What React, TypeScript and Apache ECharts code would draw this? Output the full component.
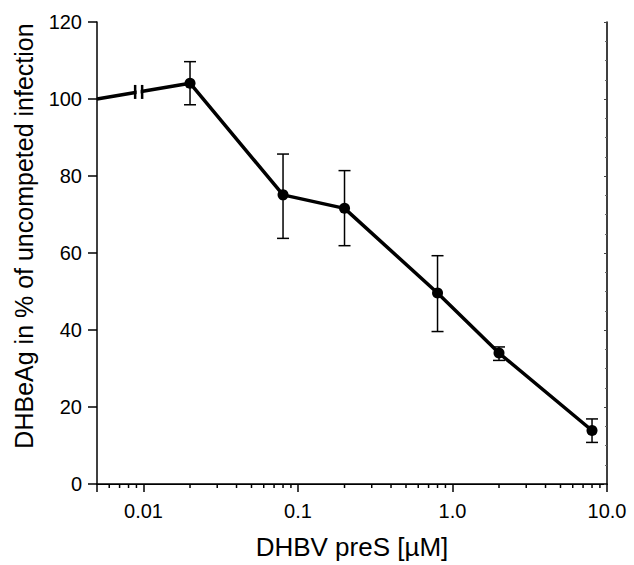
import React, { useEffect, useRef } from "react";
import * as echarts from "echarts";

// Concentrations of DHBV preS (µM)
const concentrations = [0.02, 0.08, 0.2, 0.8, 2, 8];
// DHBeAg in % of uncompeted infection
const means = [104.1, 75.1, 71.6, 49.6, 34.0, 13.9];
const errUpper = [109.7, 85.7, 81.4, 59.3, 35.6, 16.9];
const errLower = [98.5, 63.8, 61.9, 39.6, 32.1, 10.8];

// uncompeted control (drawn at the left edge, with an axis break)
const controlX = 0.005;
const controlY = 100;
const breakX = 0.0093;

const xMin = 0.005;
const xMax = 10;
const xTickLabels = ["0.01", "0.1", "1.0", "10.0"];
const xMinorTicks = [
  0.006, 0.007, 0.008, 0.009,
  0.02, 0.03, 0.04, 0.05, 0.06, 0.07, 0.08, 0.09,
  0.2, 0.3, 0.4, 0.5, 0.6, 0.7, 0.8, 0.9,
  2, 3, 4, 5, 6, 7, 8, 9,
];
const yTicks = [0, 20, 40, 60, 80, 100, 120];
const xTitle = "DHBV preS [µM]";
const yTitle = "DHBeAg in % of uncompeted infection";

const FONT = "'Liberation Sans', Arial, Helvetica, sans-serif";

export default function App() {
  const ref = useRef<HTMLDivElement>(null);

  useEffect(() => {
    if (!ref.current) return;
    const chart = echarts.init(ref.current, undefined, { renderer: "svg" });

    const lineData: any[] = [
      { value: [controlX, controlY], symbol: "none" },
      ...concentrations.map((c, i) => [c, means[i]]),
    ];

    const option: any = {
      animation: false,
      backgroundColor: "#fff",
      grid: { left: 97, right: 27, top: 22, bottom: 81 },
      graphic: [
        {
          type: "text",
          x: 24,
          y: 236,
          rotation: Math.PI / 2,
          style: {
            text: yTitle,
            fontFamily: FONT,
            fontSize: 25,
            fill: "#000",
            align: "center",
            verticalAlign: "middle",
          },
        },
      ],
      xAxis: [
        {
          type: "log",
          min: xMin,
          max: xMax,
          logBase: 10,
          name: xTitle,
          nameLocation: "middle",
          nameGap: 50,
          nameTextStyle: { fontFamily: FONT, fontSize: 26, color: "#000" },
          axisLine: { show: true, lineStyle: { color: "#000", width: 1.5 } },
          axisTick: { show: true, length: 8, lineStyle: { color: "#000", width: 1.5 } },
          axisLabel: {
            margin: 17,
            fontFamily: FONT,
            fontSize: 20,
            color: "#000",
            formatter: (v: number) => {
              const lg = Math.log10(v);
              const r = Math.round(lg);
              if (Math.abs(lg - r) > 1e-6) return "";
              const idx = r + 2;
              return xTickLabels[idx] ?? "";
            },
          },
          splitLine: { show: false },
          minorTick: { show: false },
        },
        {
          type: "log",
          position: "top",
          min: xMin,
          max: xMax,
          axisLine: { show: true, lineStyle: { color: "#000", width: 1.2 } },
          axisTick: { show: false },
          axisLabel: { show: false },
          splitLine: { show: false },
        },
      ],
      yAxis: [
        {
          type: "value",
          min: 0,
          max: 120,
          interval: 20,
          axisLine: { show: true, lineStyle: { color: "#000", width: 1.5 } },
          axisTick: { show: true, length: 9, lineStyle: { color: "#000", width: 1.5 } },
          axisLabel: {
            margin: 15,
            fontFamily: FONT,
            fontSize: 20,
            color: "#000",
            formatter: (v: number) => (yTicks.includes(v) ? String(v) : ""),
          },
          splitLine: { show: false },
        },
        {
          type: "value",
          position: "right",
          min: 0,
          max: 120,
          interval: 20,
          axisLine: { show: true, lineStyle: { color: "#000", width: 1.5 } },
          axisTick: { show: true, inside: true, length: 3, lineStyle: { color: "#444", width: 1 } },
          minorTick: { show: true, splitNumber: 4, length: 2, lineStyle: { color: "#666", width: 1 } },
          axisLabel: { show: false },
          splitLine: { show: false },
        },
      ],
      series: [
        {
          type: "custom",
          name: "minorTicks",
          xAxisIndex: 0,
          yAxisIndex: 0,
          silent: true,
          data: xMinorTicks.map((v) => [v, 0]),
          renderItem: (params: any, api: any) => {
            const p = api.coord([api.value(0), api.value(1)]);
            return {
              type: "line",
              shape: { x1: p[0], y1: p[1], x2: p[0], y2: p[1] + 4 },
              style: { stroke: "#000", lineWidth: 1.5 },
            };
          },
          z: 1,
        },
        {
          type: "custom",
          name: "errorBars",
          xAxisIndex: 0,
          yAxisIndex: 0,
          silent: true,
          data: concentrations.map((c, i) => [c, errLower[i], errUpper[i]]),
          encode: { x: 0, y: [1, 2] },
          renderItem: (params: any, api: any) => {
            const x = api.value(0);
            const lo = api.coord([x, api.value(1)]);
            const hi = api.coord([x, api.value(2)]);
            const half = 6;
            const st = { stroke: "#000", lineWidth: 1.5 };
            return {
              type: "group",
              children: [
                { type: "line", shape: { x1: lo[0], y1: lo[1], x2: hi[0], y2: hi[1] }, style: st },
                { type: "line", shape: { x1: lo[0] - half, y1: lo[1], x2: lo[0] + half, y2: lo[1] }, style: st },
                { type: "line", shape: { x1: hi[0] - half, y1: hi[1], x2: hi[0] + half, y2: hi[1] }, style: st },
              ],
            };
          },
          z: 2,
        },
        {
          type: "line",
          name: "DHBeAg",
          xAxisIndex: 0,
          yAxisIndex: 0,
          data: lineData,
          symbol: "circle",
          symbolSize: 11,
          showSymbol: true,
          lineStyle: { color: "#000", width: 3.5 },
          itemStyle: { color: "#000" },
          z: 3,
        },
        {
          type: "custom",
          name: "axisBreak",
          xAxisIndex: 0,
          yAxisIndex: 0,
          silent: true,
          data: [[breakX, controlY]],
          renderItem: (params: any, api: any) => {
            const start = api.coord([controlX, controlY]);
            const end = api.coord([concentrations[0], means[0]]);
            const cx = api.coord([api.value(0), api.value(1)])[0];
            const t = (cx - start[0]) / (end[0] - start[0]);
            const cy = start[1] + t * (end[1] - start[1]);
            const gap = 3.5;
            const h = 7;
            const st = { stroke: "#000", lineWidth: 2.5 };
            return {
              type: "group",
              children: [
                {
                  type: "rect",
                  shape: { x: cx - gap + 1.5, y: cy - 4, width: 2 * gap - 3, height: 8 },
                  style: { fill: "#fff" },
                },
                { type: "line", shape: { x1: cx - gap, y1: cy - h, x2: cx - gap, y2: cy + h }, style: st },
                { type: "line", shape: { x1: cx + gap, y1: cy - h, x2: cx + gap, y2: cy + h }, style: st },
              ],
            };
          },
          z: 4,
        },
      ],
    };

    chart.setOption(option);
    return () => {
      chart.dispose();
    };
  }, []);

  return (
    <div
      ref={ref}
      style={{ position: "fixed", left: 0, top: 0, width: 634, height: 565, background: "#fff" }}
    />
  );
}
